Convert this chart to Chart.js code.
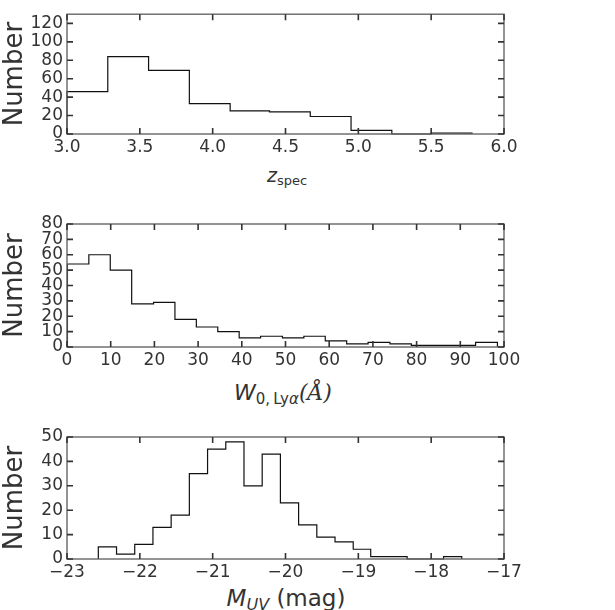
<!DOCTYPE html>
<html>
<head>
<meta charset="utf-8">
<script src="https://cdn.jsdelivr.net/npm/chart.js@4.4.1/dist/chart.umd.min.js"></script>
<style>
body { margin: 0; background: #fff; }
#wrap { position: relative; width: 615px; height: 610px; overflow: hidden; font-family: "DejaVu Sans", sans-serif; color: #333; }
canvas { position: absolute; left: 0; }
.xlab { position: absolute; white-space: nowrap; transform: translateX(-50%); }
.xlab .s { position: relative; }
.serif { font-family: "DejaVu Serif", serif; font-style: italic; }
</style>
</head>
<body>
<div id="wrap">
  <canvas id="c1" width="615" height="160" style="top:0px"></canvas>
  <canvas id="c2" width="615" height="172" style="top:200px"></canvas>
  <canvas id="c3" width="615" height="175" style="top:410px"></canvas>

  <div class="xlab" style="left:287px; top:166px; font-size:19px; line-height:19px;"><i>z</i><span class="s" style="font-size:13px; top:3px;">spec</span></div>
  <div class="xlab" style="left:283px; top:382px; font-size:22px; line-height:22px;"><i>W</i><span class="s" style="font-size:15px; top:4px;">0,&#8201;Ly<i>&alpha;</i></span><span class="serif">(&Aring;)</span></div>
  <div class="xlab" style="left:286px; top:587px; font-size:23px; line-height:23px;"><i>M</i><span class="s" style="font-size:16px; top:4px;"><i>UV</i></span> (mag)</div>
</div>
<script>
// redshift histogram
var zEdges = [3.00, 3.28, 3.56, 3.84, 4.12, 4.39, 4.67, 4.95, 5.23, 5.50, 5.78];
var zCounts = [46, 84, 69, 33, 25, 24, 19, 4, 0, 1];
var zTicks = [3.0, 3.5, 4.0, 4.5, 5.0, 5.5, 6.0];

// Lya equivalent width histogram
var ewEdges = [0.1, 5.0, 9.9, 14.8, 19.8, 24.7, 29.6, 34.5, 39.4, 44.3, 49.3, 54.2, 59.1, 64.0, 68.9, 73.9, 78.8, 83.7, 88.6, 93.5, 98.5];
var ewCounts = [54, 60, 50, 28, 29, 18, 13, 10, 6, 7, 6, 7, 4, 2, 3, 2, 1, 1, 1, 3];
var ewTicks = [0, 10, 20, 30, 40, 50, 60, 70, 80, 90, 100];

// UV magnitude histogram
var muvEdges = [-22.57, -22.32, -22.07, -21.82, -21.57, -21.32, -21.07, -20.82, -20.57, -20.32, -20.07, -19.82, -19.57, -19.32, -19.07, -18.83, -18.58, -18.33, -18.08, -17.83, -17.58];
var muvCounts = [5, 2, 6, 13, 18, 35, 45, 48, 30, 43, 23, 14, 9, 7, 4, 1, 1, 0, 0, 1];
var muvTicks = [-23, -22, -21, -20, -19, -18, -17];

var tickFont = {family: 'DejaVu Sans', size: 17};

// outline of a step histogram, closed down to zero at both ends
function histPoints(edges, counts) {
    var pts = [{x: edges[0], y: 0}];
    for (var i = 0; i < counts.length; i++) pts.push({x: edges[i], y: counts[i]});
    pts.push({x: edges[edges.length - 1], y: 0});
    return pts;
}

// box around the plot with inward ticks on all four sides
var framePlugin = {
    id: 'frame',
    afterDatasetsDraw: function(chart) {
        var ctx = chart.ctx, a = chart.chartArea, x = chart.scales.x, y = chart.scales.y;
        ctx.save();
        ctx.strokeStyle = '#666';
        ctx.lineWidth = 1.4;
        ctx.strokeRect(a.left, a.top, a.right - a.left, a.bottom - a.top);
        ctx.strokeStyle = '#333';
        ctx.lineWidth = 1.6;
        ctx.beginPath();
        x.ticks.forEach(function(t) {
            var px = x.getPixelForValue(t.value);
            ctx.moveTo(px, a.bottom); ctx.lineTo(px, a.bottom - 6);
            ctx.moveTo(px, a.top); ctx.lineTo(px, a.top + 6);
        });
        y.ticks.forEach(function(t) {
            var py = y.getPixelForValue(t.value);
            ctx.moveTo(a.left, py); ctx.lineTo(a.left + 6, py);
            ctx.moveTo(a.right, py); ctx.lineTo(a.right - 6, py);
        });
        ctx.stroke();
        ctx.restore();
    }
};

function makeHist(id, edges, counts, xTicks, xFmt, yMax, yStep, padTop, xHeight) {
    return new Chart(document.getElementById(id), {
        type: 'line',
        data: {
            datasets: [{
                data: histPoints(edges, counts),
                stepped: true,
                borderColor: '#111',
                borderWidth: 1.2,
                pointRadius: 0,
                fill: false,
                clip: false
            }]
        },
        options: {
            responsive: false,
            animation: false,
            events: [],
            layout: {padding: {top: padTop, right: 111, left: 0, bottom: 0}},
            plugins: {legend: {display: false}, tooltip: {enabled: false}},
            scales: {
                x: {
                    type: 'linear',
                    min: xTicks[0],
                    max: xTicks[xTicks.length - 1],
                    afterFit: function(s) { s.height = xHeight; },
                    afterBuildTicks: function(s) { s.ticks = xTicks.map(function(v) { return {value: v}; }); },
                    grid: {display: false, drawTicks: false},
                    border: {display: false},
                    ticks: {autoSkip: false, maxRotation: 0, padding: 3, color: '#333', font: tickFont, callback: xFmt}
                },
                y: {
                    min: 0,
                    max: yMax,
                    afterFit: function(s) { s.width = 67; },
                    grid: {display: false, drawTicks: false},
                    border: {display: false},
                    ticks: {stepSize: yStep, includeBounds: false, autoSkip: false, padding: 4, color: '#333', font: tickFont},
                    title: {display: true, text: 'Number', padding: 0, color: '#333', font: {family: 'DejaVu Sans', size: 26, lineHeight: 1.2}}
                }
            }
        },
        plugins: [framePlugin]
    });
}

makeHist('c1', zEdges, zCounts, zTicks, function(v) { return Number(v).toFixed(1); }, 130, 20, 11, 26);
makeHist('c2', ewEdges, ewCounts, ewTicks, function(v) { return String(v); }, 80, 10, 24, 25);
makeHist('c3', muvEdges, muvCounts, muvTicks, function(v) { return v < 0 ? '\u2212' + Math.abs(v) : String(v); }, 50, 10, 27, 26);
</script>
</body>
</html>
